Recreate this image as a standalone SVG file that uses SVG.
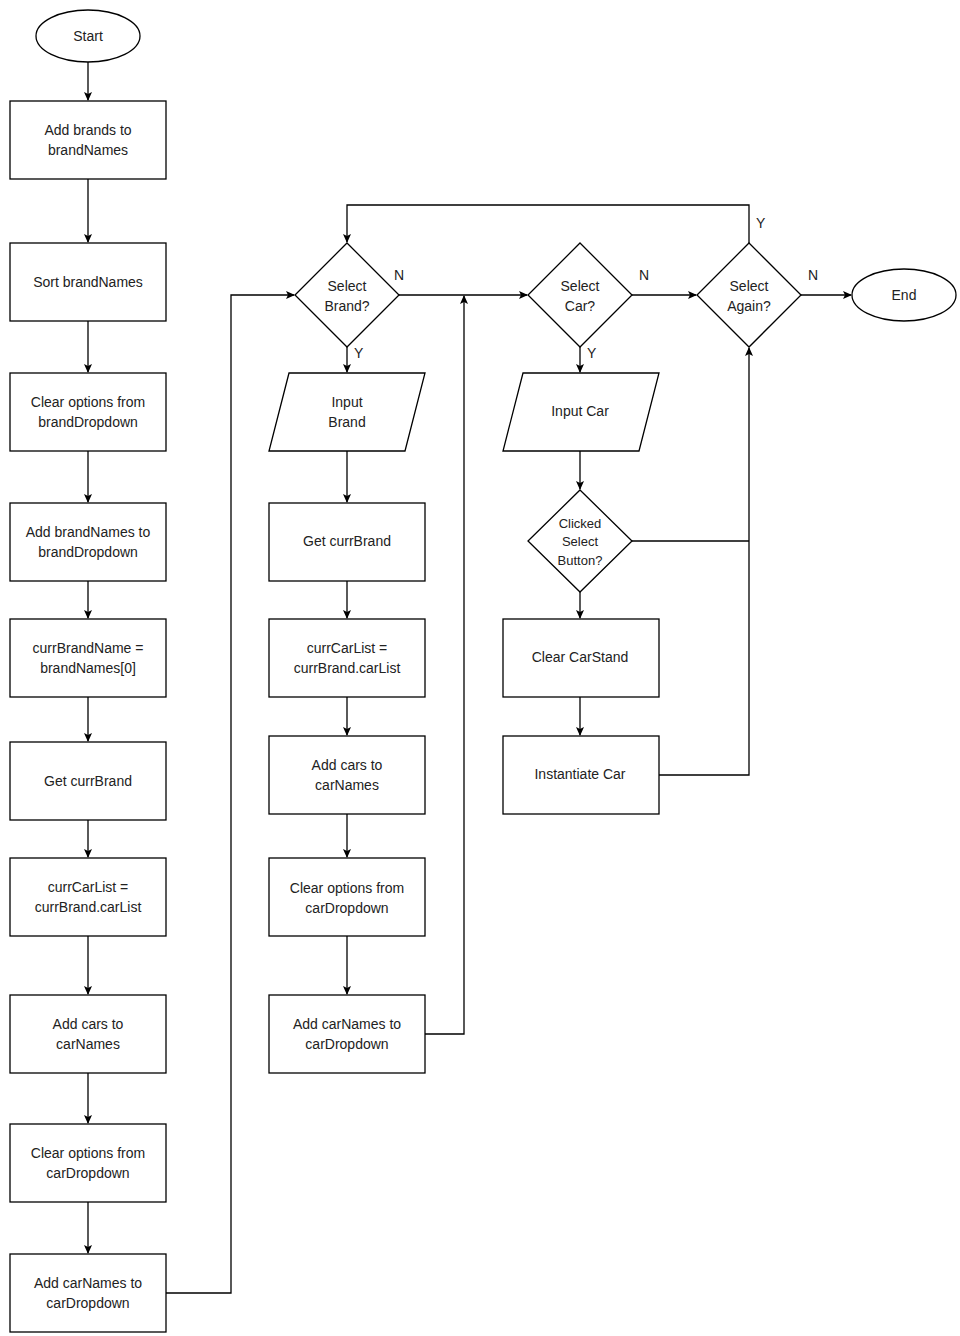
<svg xmlns="http://www.w3.org/2000/svg" width="960" height="1336" viewBox="0 0 960 1336">
<style>
.s{fill:#fff;stroke:#000;stroke-width:1.3}
text{font-family:"Liberation Sans",Arial,sans-serif;font-size:14px;fill:#222;text-anchor:middle}
.c{fill:none;stroke:#000;stroke-width:1.3;marker-end:url(#a)}
.l{text-anchor:start}
</style>
<defs><marker id="a" markerWidth="10" markerHeight="10" refX="8" refY="5" orient="auto" markerUnits="userSpaceOnUse"><path d="M0,1 L9,5 L0,9 L2,5 Z" fill="#000"/></marker></defs>
<rect width="960" height="1336" fill="#fff"/>
<g id="connectors">
<path class="c" d="M88,62 V100"/>
<path class="c" d="M88,179 V242"/>
<path class="c" d="M88,321 V372"/>
<path class="c" d="M88,451 V502"/>
<path class="c" d="M88,581 V618"/>
<path class="c" d="M88,697 V741"/>
<path class="c" d="M88,820 V857"/>
<path class="c" d="M88,936 V994"/>
<path class="c" d="M88,1073 V1123"/>
<path class="c" d="M88,1202 V1253"/>
<path class="c" d="M166,1293 H231 V295 H294"/>
<path class="c" d="M399,295 H527"/>
<path class="c" d="M425,1034 H464 V296"/>
<path class="c" d="M347,347 V372"/>
<path class="c" d="M347,451 V502"/>
<path class="c" d="M347,581 V618"/>
<path class="c" d="M347,697 V735"/>
<path class="c" d="M347,814 V857"/>
<path class="c" d="M347,936 V994"/>
<path class="c" d="M632,295 H696"/>
<path class="c" d="M801,295 H851"/>
<path class="c" d="M749,243 V205 H347 V242"/>
<path class="c" d="M580,347 V372"/>
<path class="c" d="M580,451 V489"/>
<path class="c" d="M580,592 V618"/>
<path class="c" d="M580,697 V735"/>
<path fill="none" stroke="#000" stroke-width="1.3" d="M632,541 H749"/>
<path class="c" d="M659,775 H749 V348"/>
<text class="l" x="394" y="280">N</text>
<text class="l" x="354" y="358">Y</text>
<text class="l" x="639" y="280">N</text>
<text class="l" x="587" y="358">Y</text>
<text class="l" x="808" y="280">N</text>
<text class="l" x="756" y="228">Y</text>
</g>
<g id="start"><ellipse class="s" cx="88" cy="36" rx="52" ry="26"/><text x="88" y="41">Start</text></g>
<g id="n1"><rect class="s" x="10" y="101" width="156" height="78"/><text x="88" y="135">Add brands to</text><text x="88" y="155">brandNames</text></g>
<g id="n2"><rect class="s" x="10" y="243" width="156" height="78"/><text x="88" y="287">Sort brandNames</text></g>
<g id="n3"><rect class="s" x="10" y="373" width="156" height="78"/><text x="88" y="407">Clear options from</text><text x="88" y="427">brandDropdown</text></g>
<g id="n4"><rect class="s" x="10" y="503" width="156" height="78"/><text x="88" y="537">Add brandNames to</text><text x="88" y="557">brandDropdown</text></g>
<g id="n5"><rect class="s" x="10" y="619" width="156" height="78"/><text x="88" y="653">currBrandName =</text><text x="88" y="673">brandNames[0]</text></g>
<g id="n6"><rect class="s" x="10" y="742" width="156" height="78"/><text x="88" y="786">Get currBrand</text></g>
<g id="n7"><rect class="s" x="10" y="858" width="156" height="78"/><text x="88" y="892">currCarList =</text><text x="88" y="912">currBrand.carList</text></g>
<g id="n8"><rect class="s" x="10" y="995" width="156" height="78"/><text x="88" y="1029">Add cars to</text><text x="88" y="1049">carNames</text></g>
<g id="n9"><rect class="s" x="10" y="1124" width="156" height="78"/><text x="88" y="1158">Clear options from</text><text x="88" y="1178">carDropdown</text></g>
<g id="n10"><rect class="s" x="10" y="1254" width="156" height="78"/><text x="88" y="1288">Add carNames to</text><text x="88" y="1308">carDropdown</text></g>
<g id="selBrand"><path class="s" d="M347,243 L399,295 L347,347 L295,295 Z"/><text x="347" y="291">Select</text><text x="347" y="311">Brand?</text></g>
<g id="inBrand"><path class="s" d="M289,373 H425 L405,451 H269 Z"/><text x="347" y="407">Input</text><text x="347" y="427">Brand</text></g>
<g id="m1"><rect class="s" x="269" y="503" width="156" height="78"/><text x="347" y="546">Get currBrand</text></g>
<g id="m2"><rect class="s" x="269" y="619" width="156" height="78"/><text x="347" y="653">currCarList =</text><text x="347" y="673">currBrand.carList</text></g>
<g id="m3"><rect class="s" x="269" y="736" width="156" height="78"/><text x="347" y="770">Add cars to</text><text x="347" y="790">carNames</text></g>
<g id="m4"><rect class="s" x="269" y="858" width="156" height="78"/><text x="347" y="893">Clear options from</text><text x="347" y="913">carDropdown</text></g>
<g id="m5"><rect class="s" x="269" y="995" width="156" height="78"/><text x="347" y="1029">Add carNames to</text><text x="347" y="1049">carDropdown</text></g>
<g id="selCar"><path class="s" d="M580,243 L632,295 L580,347 L528,295 Z"/><text x="580" y="291">Select</text><text x="580" y="311">Car?</text></g>
<g id="inCar"><path class="s" d="M523,373 H659 L639,451 H503 Z"/><text x="580" y="416">Input Car</text></g>
<g id="clicked"><path class="s" d="M580,490 L632,541 L580,592 L528,541 Z"/><text x="580" y="528" style="font-size:13px">Clicked</text><text x="580" y="546" style="font-size:13px">Select</text><text x="580" y="565" style="font-size:13px">Button?</text></g>
<g id="r1"><rect class="s" x="503" y="619" width="156" height="78"/><text x="580" y="662">Clear CarStand</text></g>
<g id="r2"><rect class="s" x="503" y="736" width="156" height="78"/><text x="580" y="779">Instantiate Car</text></g>
<g id="selAgain"><path class="s" d="M749,243 L801,295 L749,347 L697,295 Z"/><text x="749" y="291">Select</text><text x="749" y="311">Again?</text></g>
<g id="end"><ellipse class="s" cx="904" cy="295" rx="52" ry="26"/><text x="904" y="300">End</text></g>
</svg>
